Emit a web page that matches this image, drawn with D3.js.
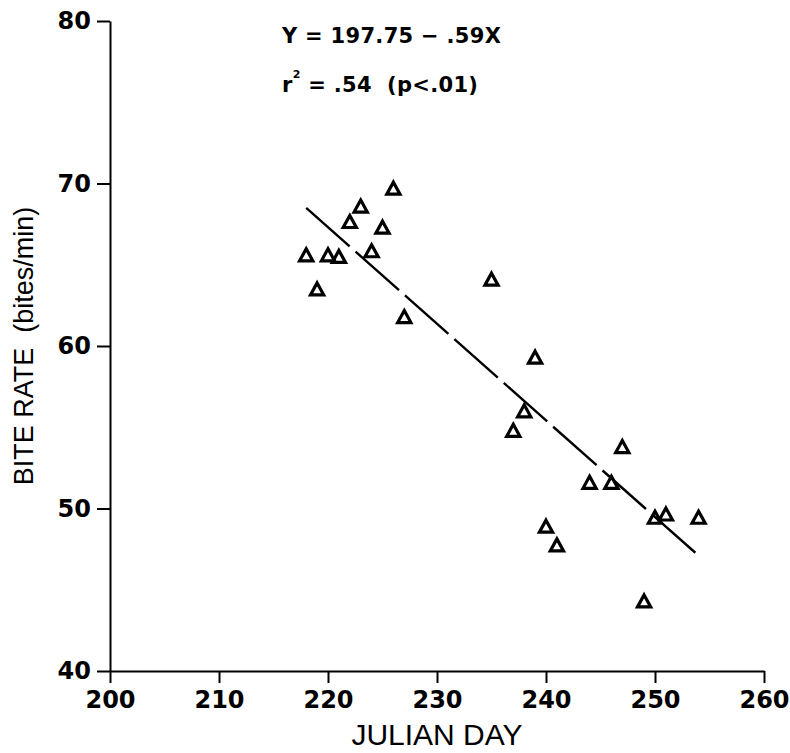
<!DOCTYPE html>
<html>
<head>
<meta charset="utf-8">
<style>
  body{margin:0;background:#fff;}
  svg{display:block;}
  .tick text{font-family:"DejaVu Sans",sans-serif;font-weight:bold;font-size:24px;fill:#000;}
  .tick line,.domain{stroke:#000;stroke-width:2px;}
  .title{font-family:"Liberation Sans",Arial,sans-serif;fill:#000;}
  .eq{font-family:"DejaVu Sans",sans-serif;font-weight:bold;font-size:21px;fill:#000;}
</style>
<script src="https://cdn.jsdelivr.net/npm/d3@7"></script>
</head>
<body>
<svg id="chart"></svg>
<script>
var width = 790, height = 753;

// values
var days  = [218,219,220,221,222,223,224,225,226,227,235,237,238,239,240,241,244,246,247,249,250,251,254];
var rates = [65.6,63.5,65.6,65.5,67.65,68.6,65.85,67.3,69.7,61.8,64.1,54.8,56.0,59.3,48.9,47.75,51.6,51.6,53.8,44.3,49.45,49.65,49.45];
var fitDays  = [218,254];
var fitRates = [68.5,47.1];
var xTicks = [200,210,220,230,240,250,260];
var yTicks = [40,50,60,70,80];

var svg = d3.select("#chart").attr("width",width).attr("height",height);

var x = d3.scaleLinear().domain([200,260]).range([110,764]);
var y = d3.scaleLinear().domain([40,80]).range([671,21]);

svg.append("g")
  .attr("transform","translate(0,"+y(40)+")")
  .call(d3.axisBottom(x).tickValues(xTicks).tickSize(12).tickSizeOuter(0).tickPadding(8));

svg.append("g")
  .attr("transform","translate("+x(200)+",0)")
  .call(d3.axisLeft(y).tickValues(yTicks).tickSize(13).tickSizeOuter(0).tickPadding(6));

// regression line, long dashes
svg.append("path")
  .datum(d3.zip(fitDays,fitRates))
  .attr("d",d3.line().x(function(d){return x(d[0]);}).y(function(d){return y(d[1]);}))
  .attr("fill","none")
  .attr("stroke","#000")
  .attr("stroke-width",2.4)
  .attr("stroke-dasharray","58,8");

// open triangles
svg.append("g").selectAll("path")
  .data(d3.zip(days,rates))
  .enter().append("path")
  .attr("transform",function(d){return "translate("+x(d[0])+","+y(d[1])+")";})
  .attr("d","M0,-6.2L6.6,5.8H-6.6Z")
  .attr("fill","none")
  .attr("stroke","#000")
  .attr("stroke-width",3.2)
  .attr("stroke-linejoin","miter");

// axis titles
svg.append("text").attr("class","title")
  .attr("x",437).attr("y",745)
  .attr("text-anchor","middle")
  .style("font-size","30px")
  .text("JULIAN DAY");

svg.append("text").attr("class","title")
  .attr("transform","translate(33,346) rotate(-90)")
  .attr("text-anchor","middle")
  .style("font-size","27px")
  .attr("xml:space","preserve")
  .text("BITE RATE  (bites/min)");

// equation
svg.append("text").attr("class","eq")
  .attr("x",282).attr("y",43)
  .style("letter-spacing","0.3px")
  .text("Y = 197.75 \u2212 .59X");

var eq2 = svg.append("text").attr("class","eq")
  .attr("x",282).attr("y",92)
  .attr("xml:space","preserve")
  .style("letter-spacing","0.3px");
eq2.append("tspan").text("r");
eq2.append("tspan").attr("dy",-14).style("font-size","11px").text("2");
eq2.append("tspan").attr("dy",14).text(" = .54  (p<.01)");
</script>
</body>
</html>
